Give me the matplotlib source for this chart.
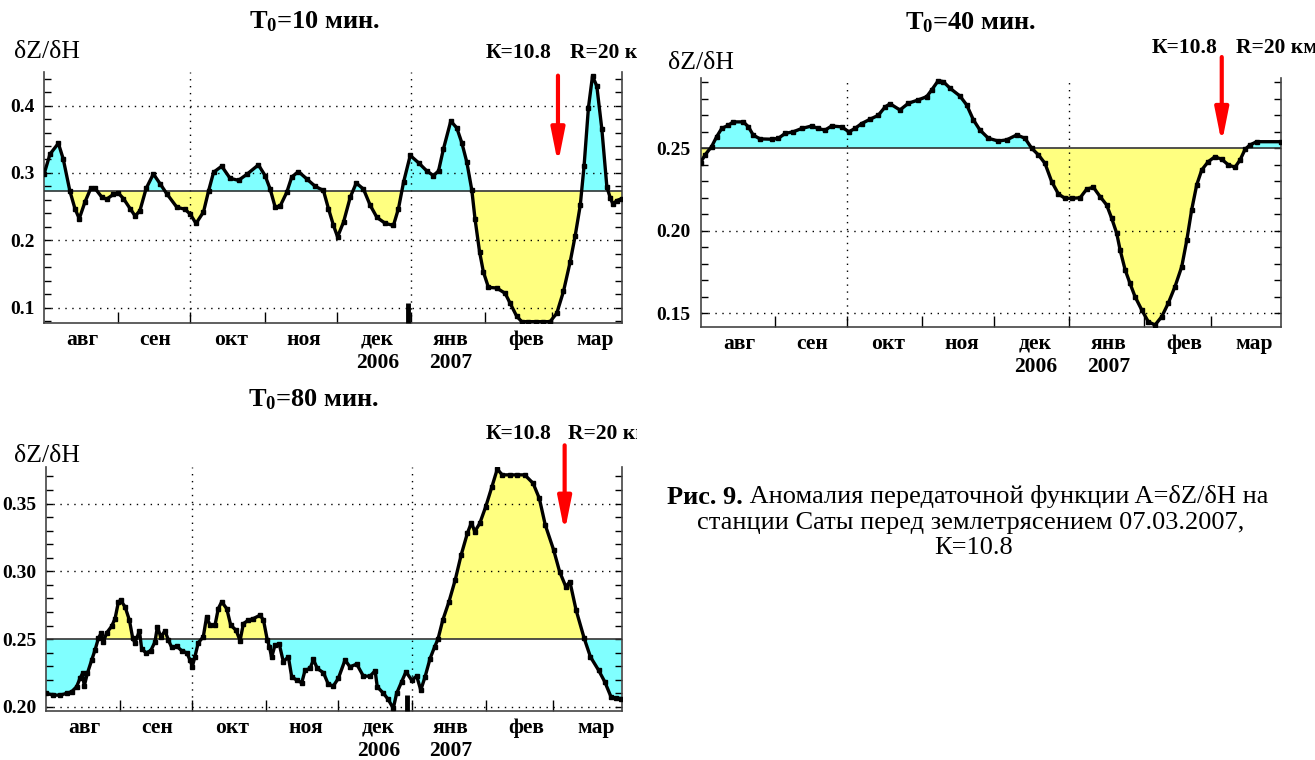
import matplotlib
matplotlib.use('Agg')
import matplotlib.pyplot as plt
from matplotlib.ticker import MultipleLocator, FormatStrFormatter, FixedLocator
from matplotlib.patches import Rectangle

plt.rcParams['font.family'] = ['Liberation Serif', 'DejaVu Serif']
plt.rcParams['mathtext.fontset'] = 'custom'
plt.rcParams['mathtext.rm'] = 'Liberation Serif:bold'
plt.rcParams['mathtext.it'] = 'Liberation Serif:bold'
plt.rcParams['mathtext.bf'] = 'Liberation Serif:bold'

# days counted from 1 Aug 2006
month_starts = [31, 61, 92, 122, 153, 184, 212]
month_mid = [16, 46.5, 78, 108.5, 139, 169.5, 201, 230]
month_names = ['авг', 'сен', 'окт', 'ноя', 'дек\n2006', 'янв\n2007', 'фев', 'мар']

# T0 = 10 min
days10 = [0, 2.5, 6, 8, 10.8, 12.9, 14.7, 17.1, 19.5, 21.3, 24.1, 26.1, 28.9, 31, 33.1,
          35.9, 38, 40, 42.6, 45.6, 48.4, 51.2, 55.4, 58.8, 60.9, 63.4, 66.5, 68.6, 70.7,
          74.1, 77.6, 81.1, 84.6, 89.4, 92.2, 94.3, 96.4, 98.5, 101.2, 103.3, 106.1, 109.6,
          113.1, 116.5, 118.6, 120.7, 122.4, 124.9, 127.7, 130.2, 133.2, 136, 138.8, 142.3,
          145.7, 147.8, 149.9, 152.7, 156.2, 159.6, 162.4, 164.5, 166.5, 169.6, 172.1, 174.2,
          176.3, 178.4, 179.7, 181.6, 183.2, 185.3, 188.8, 192.3, 194.4, 197.1, 199.2, 202,
          205, 208, 211, 213.8, 216.6, 219.4, 221.5, 223.6, 225.2, 227, 228.7, 230.5, 232.6,
          234.7, 236.1, 237.2, 238.9, 241]
vals10 = [0.298, 0.328, 0.344, 0.321, 0.273, 0.247, 0.232, 0.257, 0.277, 0.277, 0.264, 0.261,
          0.268, 0.270, 0.262, 0.247, 0.236, 0.244, 0.277, 0.2985, 0.284, 0.269, 0.249, 0.246,
          0.239, 0.225, 0.242, 0.273, 0.301, 0.310, 0.292, 0.289, 0.298, 0.312, 0.296, 0.276,
          0.249, 0.251, 0.271, 0.294, 0.302, 0.291, 0.280, 0.274, 0.247, 0.222, 0.205, 0.227,
          0.264, 0.285, 0.276, 0.252, 0.234, 0.225, 0.222, 0.247, 0.286, 0.326, 0.315, 0.303,
          0.296, 0.303, 0.335, 0.377, 0.367, 0.345, 0.316, 0.274, 0.232, 0.183, 0.153, 0.130,
          0.129, 0.121, 0.106, 0.087, 0.079, 0.079, 0.079, 0.079, 0.079, 0.0915, 0.124, 0.168,
          0.207, 0.252, 0.311, 0.397, 0.444, 0.429, 0.365, 0.279, 0.263, 0.254, 0.259, 0.262]

# T0 = 40 min
days40 = [0, 1.9, 4.6, 6.7, 8.8, 11.6, 13.6, 17.8, 19.9, 21.9, 24.7, 29.5, 32.3, 35.1, 38.5,
          42, 46.1, 48.9, 51.7, 54.4, 58.6, 61.6, 64.1, 66.9, 70.4, 73.8, 76.6, 78.7, 82.8,
          86.3, 90.4, 93.9, 96, 98.7, 100.8, 103.6, 107.7, 110.5, 113.3, 116, 119.5, 123.6,
          127.1, 131.3, 134.7, 137.5, 140.3, 143, 145.8, 148.6, 151.3, 154.1, 157.6, 160.3,
          163.1, 165.9, 168.6, 170.7, 172.8, 174.2, 176.3, 178.3, 180.4, 183.2, 185.9, 188.7,
          191.5, 194.2, 197, 199.8, 201.9, 203.9, 206, 208.1, 210.8, 213.6, 216.4, 219.2,
          221.9, 224, 226.1, 228.1, 230.9, 241]
vals40 = [0.2413, 0.246, 0.251, 0.257, 0.262, 0.264, 0.266, 0.266, 0.263, 0.258, 0.2557,
          0.2555, 0.256, 0.259, 0.260, 0.262, 0.2635, 0.262, 0.261, 0.2635, 0.263, 0.260, 0.262,
          0.265, 0.2676, 0.270, 0.275, 0.277, 0.2732, 0.2773, 0.2793, 0.2813, 0.2854, 0.291,
          0.2904, 0.2864, 0.2817, 0.2763, 0.2672, 0.2611, 0.2561, 0.2544, 0.2551, 0.2581,
          0.2561, 0.250, 0.246, 0.2409, 0.2298, 0.2223, 0.2197, 0.2197, 0.2200, 0.2252, 0.2264,
          0.2207, 0.2157, 0.2076, 0.1985, 0.1884, 0.1763, 0.1682, 0.1601, 0.152, 0.1449, 0.1429,
          0.148, 0.1561, 0.1662, 0.1783, 0.1944, 0.2126, 0.2278, 0.2369, 0.2419, 0.2449, 0.2433,
          0.2399, 0.2385, 0.2429, 0.2494, 0.252, 0.254, 0.254]

# T0 = 80 min
days80 = [0, 3.1, 5.9, 8.6, 10.7, 12.8, 14.2, 15.3, 16, 17.3, 19.1, 20.5, 21.9, 23, 24, 25.4,
          27.5, 28.9, 30.3, 31.2, 33.1, 34.9, 36.3, 37.2, 39.1, 40, 41.8, 43.8, 45.6, 46.6, 48,
          49.8, 51.2, 52.6, 54.7, 56.8, 58.9, 60.3, 61.2, 62.3, 63.7, 65.8, 67.2, 68.6, 70.7,
          72.1, 73.5, 75.6, 77.3, 79.5, 81.2, 82.6, 84.7, 86.8, 89.6, 91, 92.6, 93.5, 94.4,
          95.8, 97.6, 99.3, 101.4, 102.8, 104.9, 107, 108.4, 110.5, 111.9, 113.5, 116.1, 118.1,
          120.2, 122.3, 125.1, 127.2, 130, 132.8, 135.6, 137.7, 138.6, 141.2, 143.2, 145.3,
          146.7, 148.8, 150.6, 153, 155.1, 156.8, 158.6, 160.7, 162.6, 164, 166, 168.6, 171.2,
          173.7, 176.3, 178, 179.4, 181.5, 184, 186.6, 188.8, 190.9, 194, 197, 200.3, 203.8,
          206.4, 208.9, 212.4, 214.9, 217.5, 219.2, 221.8, 225.2, 227.8, 231.2, 233.8, 236.4,
          238.5, 240.7]
vals80 = [0.210, 0.2087, 0.2087, 0.210, 0.2112, 0.2149, 0.221, 0.2247, 0.2154, 0.2247, 0.2345,
          0.2419, 0.2505, 0.2542, 0.248, 0.2547, 0.2596, 0.2652, 0.2775, 0.2787, 0.2738, 0.264,
          0.2505, 0.2473, 0.2561, 0.2431, 0.2399, 0.2414, 0.248, 0.2591, 0.2517, 0.2561, 0.2493,
          0.2439, 0.2448, 0.2414, 0.2399, 0.2345, 0.2296, 0.237, 0.2473, 0.2517, 0.2665, 0.2603,
          0.2603, 0.2726, 0.2775, 0.2726, 0.2603, 0.2566, 0.249, 0.2615, 0.264, 0.2652, 0.2677,
          0.264, 0.2493, 0.2443, 0.2365, 0.2456, 0.2463, 0.2333, 0.237, 0.2222, 0.2198, 0.2178,
          0.2271, 0.2284, 0.235, 0.2284, 0.2252, 0.2168, 0.2154, 0.221, 0.2345, 0.2296, 0.2316,
          0.2227, 0.2227, 0.2267, 0.2149, 0.210, 0.2055, 0.1989, 0.210, 0.2186, 0.2259, 0.2198,
          0.2227, 0.2124, 0.2222, 0.2357, 0.2443, 0.250, 0.264, 0.2776, 0.2936, 0.3121, 0.3281,
          0.336, 0.3293, 0.3355, 0.3478, 0.3626, 0.3754, 0.3712, 0.3712, 0.3712, 0.3712, 0.365,
          0.3539, 0.3342, 0.3158, 0.2998, 0.2887, 0.2924, 0.2714, 0.2505, 0.2369, 0.2271,
          0.2185, 0.2074, 0.2065, 0.2062]

CYAN = '#80ffff'
YELLOW = '#ffff80'
W, H = 1315, 760


def fx(x):
    return x / W


def fy(y):
    return 1 - y / H


def panel(rect, days, vals, ref, ylim, major, minor, fmt, col_up, col_down,
          quake_day, arrow_y, year_mark=None):
    ax = fig.add_axes(rect)
    ax.fill_between(days, vals, ref, where=[v >= ref for v in vals],
                    interpolate=True, color=col_up, lw=0)
    ax.fill_between(days, vals, ref, where=[v <= ref for v in vals],
                    interpolate=True, color=col_down, lw=0)
    ax.axhline(ref, color='#333333', lw=1.2, zorder=3)
    ax.plot(days, vals, color='black', lw=2.4, marker='s', ms=2.8, zorder=4)

    ax.set_xlim(0, 241)
    ax.set_ylim(*ylim)
    ax.yaxis.set_major_locator(MultipleLocator(major))
    ax.yaxis.set_minor_locator(MultipleLocator(minor))
    ax.yaxis.set_major_formatter(FormatStrFormatter(fmt))
    ax.yaxis.set_ticks_position('both')
    ax.tick_params(axis='y', which='both', direction='in', length=5, width=1,
                   labelsize=14, pad=7)

    ax.xaxis.set_major_locator(FixedLocator(month_starts))
    ax.xaxis.set_minor_locator(FixedLocator(month_mid))
    ax.set_xticklabels([], minor=False)
    ax.set_xticklabels(month_names, minor=True)
    ax.tick_params(axis='x', which='major', direction='in', length=8, width=1)
    ax.tick_params(axis='x', which='minor', length=0, labelsize=15.5, pad=5)
    for lab in ax.get_xticklabels(minor=True) + ax.get_yticklabels():
        lab.set_fontweight('bold')

    # dotted grid
    for t in ax.get_yticks():
        if ylim[0] <= t <= ylim[1] and abs(t - ref) > 1e-6:
            ax.axhline(t, color='black', lw=1, ls=(0, (1, 4)), zorder=2)
    for d in (61, 153):
        ax.axvline(d, color='black', lw=1, ls=(0, (1, 4)), zorder=2)

    ax.spines['top'].set_visible(False)
    for s in ('left', 'right', 'bottom'):
        ax.spines[s].set_linewidth(1.2)
        ax.spines[s].set_color('#444444')

    if year_mark is not None:
        ax.plot([year_mark[0], year_mark[0]], [ylim[0], year_mark[1]], color='black',
                lw=3.5, solid_capstyle='butt', zorder=5, clip_on=False)

    ax.annotate('', xy=(quake_day, arrow_y[1]), xytext=(quake_day, arrow_y[0]),
                arrowprops=dict(arrowstyle='-|>,head_length=1.0,head_width=0.2',
                                color='red', lw=3, mutation_scale=20,
                                shrinkA=0, shrinkB=0),
                annotation_clip=False, zorder=6)
    return ax


fig = plt.figure(figsize=(13.15, 7.6), dpi=100)

ax1 = panel([fx(44), fy(323), fx(578), 251 / H], days10, vals10, 0.2727,
            (0.077, 0.45), 0.1, 0.02, '%.1f', CYAN, YELLOW,
            214.3, (0.4446, 0.3138), year_mark=(151.6, 0.107))
ax2 = panel([fx(700.5), fy(327), fx(580.5), 249 / H], days40, vals40, 0.25,
            (0.1417, 0.2926), 0.05, 0.01, '%.2f', CYAN, YELLOW,
            216.4, (0.3053, 0.253))
ax3 = panel([fx(46), fy(711), fx(576), 244 / H], days80, vals80, 0.25,
            (0.197, 0.377), 0.05, 0.01, '%.2f', YELLOW, CYAN,
            217, (0.393, 0.329), year_mark=(151.2, 0.2087))

left_clip = Rectangle((0, 0), fx(637), 1, transform=fig.transFigure)

titles = [('T$_0$=10 мин.', 315, 22), ('T$_0$=40 мин.', 971, 23), ('T$_0$=80 мин.', 314, 400)]
for txt, x, y in titles:
    fig.text(fx(x), fy(y), txt, ha='center', va='center', fontsize=19, fontweight='bold')

for x, y in [(14, 52), (668, 63), (14, 456)]:
    fig.text(fx(x), fy(y), 'δZ/δH', ha='left', va='center', fontsize=18.5)

for xk, xr, y, clip in [(486, 570, 53, True), (1152, 1236, 48, False), (486, 568, 434, True)]:
    fig.text(fx(xk), fy(y), 'К=10.8', ha='left', va='center', fontsize=15.5, fontweight='bold')
    t = fig.text(fx(xr), fy(y), 'R=20 км', ha='left', va='center', fontsize=15.5,
                 fontweight='bold')
    if clip:
        t.set_clip_path(left_clip)

# caption, first line is bold + normal, centred as a whole
cap_size = 19
renderer = fig.canvas.get_renderer()
tb = fig.text(0, fy(497), 'Рис. 9.', ha='left', va='center', fontsize=cap_size,
              fontweight='bold')
tn = fig.text(0, fy(497), ' Аномалия передаточной функции A=δZ/δH на', ha='left',
              va='center', fontsize=cap_size)
wb = tb.get_window_extent(renderer).width
wn = tn.get_window_extent(renderer).width
x0 = 968 - (wb + wn) / 2
tb.set_x(fx(x0))
tn.set_x(fx(x0 + wb))
fig.text(fx(971), fy(523), 'станции Саты перед землетрясением 07.03.2007,', ha='center',
         va='center', fontsize=cap_size)
fig.text(fx(974), fy(548), 'К=10.8', ha='center', va='center', fontsize=cap_size)

fig.savefig('out.png', dpi=100)
